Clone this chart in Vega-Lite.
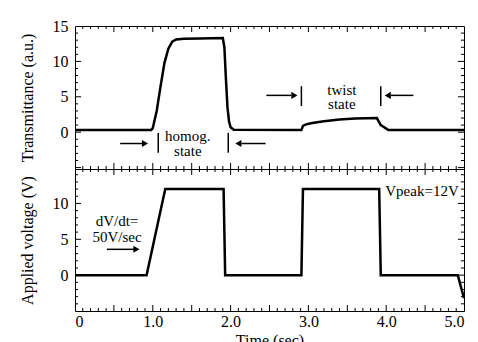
{
  "$schema": "https://vega.github.io/schema/vega-lite/v6.json",
  "padding": {"left": 18, "top": 17, "right": 15, "bottom": 5},
  "spacing": 0,
  "bounds": "flush",
  "datasets": {
    "trans": [
      {"t": 0, "v": 0.3}, {"t": 0.98, "v": 0.3}, {"t": 1.0, "v": 0.6}, {"t": 1.05, "v": 3.0},
      {"t": 1.1, "v": 6.5}, {"t": 1.15, "v": 9.8}, {"t": 1.2, "v": 11.8}, {"t": 1.25, "v": 12.8},
      {"t": 1.3, "v": 13.1}, {"t": 1.4, "v": 13.2}, {"t": 1.6, "v": 13.25}, {"t": 1.9, "v": 13.3},
      {"t": 1.92, "v": 12.0}, {"t": 1.94, "v": 7.5}, {"t": 1.96, "v": 3.5}, {"t": 1.98, "v": 1.5},
      {"t": 2.0, "v": 0.7}, {"t": 2.04, "v": 0.35}, {"t": 2.91, "v": 0.3}, {"t": 2.93, "v": 0.9},
      {"t": 2.97, "v": 1.1}, {"t": 3.05, "v": 1.3}, {"t": 3.2, "v": 1.55}, {"t": 3.4, "v": 1.8},
      {"t": 3.6, "v": 1.95}, {"t": 3.88, "v": 2.0}, {"t": 3.9, "v": 1.6}, {"t": 3.93, "v": 1.0},
      {"t": 3.96, "v": 0.8}, {"t": 4.0, "v": 0.5}, {"t": 4.03, "v": 0.3}, {"t": 5.0, "v": 0.3}
    ],
    "volt": [
      {"t": 0, "v": 0}, {"t": 0.92, "v": 0}, {"t": 1.16, "v": 12}, {"t": 1.91, "v": 12},
      {"t": 1.93, "v": 0}, {"t": 2.91, "v": 0}, {"t": 2.93, "v": 12}, {"t": 3.91, "v": 12},
      {"t": 3.93, "v": 0}, {"t": 4.92, "v": 0}, {"t": 5.0, "v": -3.2}
    ],
    "xmajor": [{"p": 0.5}, {"p": 1.0}, {"p": 1.5}, {"p": 2.0}, {"p": 2.5}, {"p": 3.0}, {"p": 3.5}, {"p": 4.0}, {"p": 4.5}],
    "xminor": [
      {"p": 0.1}, {"p": 0.2}, {"p": 0.3}, {"p": 0.4}, {"p": 0.6}, {"p": 0.7}, {"p": 0.8}, {"p": 0.9},
      {"p": 1.1}, {"p": 1.2}, {"p": 1.3}, {"p": 1.4}, {"p": 1.6}, {"p": 1.7}, {"p": 1.8}, {"p": 1.9},
      {"p": 2.1}, {"p": 2.2}, {"p": 2.3}, {"p": 2.4}, {"p": 2.6}, {"p": 2.7}, {"p": 2.8}, {"p": 2.9},
      {"p": 3.1}, {"p": 3.2}, {"p": 3.3}, {"p": 3.4}, {"p": 3.6}, {"p": 3.7}, {"p": 3.8}, {"p": 3.9},
      {"p": 4.1}, {"p": 4.2}, {"p": 4.3}, {"p": 4.4}, {"p": 4.6}, {"p": 4.7}, {"p": 4.8}, {"p": 4.9}
    ],
    "ymajorTop": [{"p": -5}, {"p": 0}, {"p": 5}, {"p": 10}],
    "yminorTop": [
      {"p": -4}, {"p": -3}, {"p": -2}, {"p": -1}, {"p": 1}, {"p": 2}, {"p": 3}, {"p": 4},
      {"p": 6}, {"p": 7}, {"p": 8}, {"p": 9}, {"p": 11}, {"p": 12}, {"p": 13}, {"p": 14}
    ],
    "ymajorBot": [{"p": 0}, {"p": 5}, {"p": 10}],
    "yminorBot": [
      {"p": -4}, {"p": -3}, {"p": -2}, {"p": -1}, {"p": 1}, {"p": 2}, {"p": 3}, {"p": 4},
      {"p": 6}, {"p": 7}, {"p": 8}, {"p": 9}, {"p": 11}, {"p": 12}, {"p": 13}, {"p": 14}
    ],
    "topText": [
      {"x": 1.45, "y": -0.6, "label": "homog."},
      {"x": 1.45, "y": -2.6, "label": "state"},
      {"x": 3.43, "y": 6.0, "label": "twist"},
      {"x": 3.43, "y": 4.0, "label": "state"}
    ],
    "topSeg": [
      {"x1": 0.58, "x2": 0.88, "y1": -1.6, "y2": -1.6},
      {"x1": 1.07, "x2": 1.07, "y1": -0.1, "y2": -2.9},
      {"x1": 1.97, "x2": 1.97, "y1": -0.1, "y2": -2.9},
      {"x1": 2.14, "x2": 2.45, "y1": -1.6, "y2": -1.6},
      {"x1": 2.46, "x2": 2.78, "y1": 5.2, "y2": 5.2},
      {"x1": 2.91, "x2": 2.91, "y1": 6.5, "y2": 3.7},
      {"x1": 3.93, "x2": 3.93, "y1": 6.5, "y2": 3.7},
      {"x1": 4.06, "x2": 4.35, "y1": 5.2, "y2": 5.2}
    ],
    "topHead": [
      {"x": 0.9, "y": -1.6, "dir": "r"},
      {"x": 2.1, "y": -1.6, "dir": "l"},
      {"x": 2.82, "y": 5.2, "dir": "r"},
      {"x": 4.02, "y": 5.2, "dir": "l"}
    ],
    "botText": [
      {"x": 0.54, "y": 7.5, "label": "dV/dt="},
      {"x": 0.54, "y": 5.3, "label": "50V/sec"},
      {"x": 4.46, "y": 11.7, "label": "Vpeak=12V"}
    ],
    "botSeg": [
      {"x1": 0.41, "x2": 0.76, "y1": 3.6, "y2": 3.6}
    ],
    "botHead": [
      {"x": 0.79, "y": 3.6, "dir": "r"}
    ]
  },
  "vconcat": [
    {
      "width": 389,
      "height": 143,
      "layer": [
        {
          "data": {"name": "trans"},
          "mark": {"type": "line", "color": "black", "strokeWidth": 2.5},
          "encoding": {
            "x": {"field": "t", "type": "quantitative", "scale": {"domain": [0, 5], "nice": false, "zero": false},
              "axis": {"orient": "bottom", "title": null, "labels": false}},
            "y": {"field": "v", "type": "quantitative", "scale": {"domain": [-5.2, 15], "nice": false, "zero": false},
              "axis": {"orient": "left", "title": "Transmittance (a.u.)", "values": [0, 5, 10, 15]}}
          }
        },
        {"data": {"name": "xmajor"}, "mark": {"type": "rule", "color": "black", "strokeWidth": 1},
          "encoding": {"x": {"field": "p", "type": "quantitative"}, "y": {"datum": -5.2, "type": "quantitative"}, "y2": {"datum": -4.35}}},
        {"data": {"name": "xminor"}, "mark": {"type": "rule", "color": "black", "strokeWidth": 1},
          "encoding": {"x": {"field": "p", "type": "quantitative"}, "y": {"datum": -5.2, "type": "quantitative"}, "y2": {"datum": -4.78}}},
        {"data": {"name": "xmajor"}, "mark": {"type": "rule", "color": "black", "strokeWidth": 1},
          "encoding": {"x": {"field": "p", "type": "quantitative"}, "y": {"datum": 15, "type": "quantitative"}, "y2": {"datum": 14.15}}},
        {"data": {"name": "xminor"}, "mark": {"type": "rule", "color": "black", "strokeWidth": 1},
          "encoding": {"x": {"field": "p", "type": "quantitative"}, "y": {"datum": 15, "type": "quantitative"}, "y2": {"datum": 14.58}}},
        {"data": {"name": "ymajorTop"}, "mark": {"type": "rule", "color": "black", "strokeWidth": 1},
          "encoding": {"y": {"field": "p", "type": "quantitative"}, "x": {"datum": 0, "type": "quantitative"}, "x2": {"datum": 0.078}}},
        {"data": {"name": "yminorTop"}, "mark": {"type": "rule", "color": "black", "strokeWidth": 1},
          "encoding": {"y": {"field": "p", "type": "quantitative"}, "x": {"datum": 0, "type": "quantitative"}, "x2": {"datum": 0.04}}},
        {"data": {"name": "ymajorTop"}, "mark": {"type": "rule", "color": "black", "strokeWidth": 1},
          "encoding": {"y": {"field": "p", "type": "quantitative"}, "x": {"datum": 5, "type": "quantitative"}, "x2": {"datum": 4.922}}},
        {"data": {"name": "yminorTop"}, "mark": {"type": "rule", "color": "black", "strokeWidth": 1},
          "encoding": {"y": {"field": "p", "type": "quantitative"}, "x": {"datum": 5, "type": "quantitative"}, "x2": {"datum": 4.96}}},
        {
          "data": {"name": "topText"},
          "mark": {"type": "text", "fontSize": 15, "color": "black", "font": "Liberation Serif"},
          "encoding": {
            "x": {"field": "x", "type": "quantitative"},
            "y": {"field": "y", "type": "quantitative"},
            "text": {"field": "label", "type": "nominal"}
          }
        },
        {
          "data": {"name": "topSeg"},
          "mark": {"type": "rule", "color": "black", "strokeWidth": 1.5},
          "encoding": {
            "x": {"field": "x1", "type": "quantitative"},
            "x2": {"field": "x2"},
            "y": {"field": "y1", "type": "quantitative"},
            "y2": {"field": "y2"}
          }
        },
        {
          "data": {"name": "topHead"},
          "mark": {"type": "point", "filled": true, "color": "black", "size": 50, "opacity": 1},
          "encoding": {
            "x": {"field": "x", "type": "quantitative"},
            "y": {"field": "y", "type": "quantitative"},
            "shape": {"field": "dir", "type": "nominal", "scale": {"domain": ["r", "l"], "range": ["triangle-right", "triangle-left"]}, "legend": null}
          }
        }
      ]
    },
    {
      "width": 389,
      "height": 142,
      "layer": [
        {
          "data": {"name": "volt"},
          "mark": {"type": "line", "color": "black", "strokeWidth": 2.5},
          "encoding": {
            "x": {"field": "t", "type": "quantitative", "scale": {"domain": [0, 5], "nice": false, "zero": false},
              "axis": {"orient": "bottom", "title": "Time (sec)", "values": [0, 1, 2, 3, 4, 5],
                "labelExpr": "datum.value === 0 ? '0' : format(datum.value, '.1f')"}},
            "y": {"field": "v", "type": "quantitative", "scale": {"domain": [-5, 14.8], "nice": false, "zero": false},
              "axis": {"orient": "left", "title": "Applied voltage (V)", "values": [0, 5, 10]}}
          }
        },
        {"data": {"name": "xmajor"}, "mark": {"type": "rule", "color": "black", "strokeWidth": 1},
          "encoding": {"x": {"field": "p", "type": "quantitative"}, "y": {"datum": -5, "type": "quantitative"}, "y2": {"datum": -4.16}}},
        {"data": {"name": "xminor"}, "mark": {"type": "rule", "color": "black", "strokeWidth": 1},
          "encoding": {"x": {"field": "p", "type": "quantitative"}, "y": {"datum": -5, "type": "quantitative"}, "y2": {"datum": -4.58}}},
        {"data": {"name": "xmajor"}, "mark": {"type": "rule", "color": "black", "strokeWidth": 1},
          "encoding": {"x": {"field": "p", "type": "quantitative"}, "y": {"datum": 14.8, "type": "quantitative"}, "y2": {"datum": 13.96}}},
        {"data": {"name": "xminor"}, "mark": {"type": "rule", "color": "black", "strokeWidth": 1},
          "encoding": {"x": {"field": "p", "type": "quantitative"}, "y": {"datum": 14.8, "type": "quantitative"}, "y2": {"datum": 14.38}}},
        {"data": {"name": "ymajorBot"}, "mark": {"type": "rule", "color": "black", "strokeWidth": 1},
          "encoding": {"y": {"field": "p", "type": "quantitative"}, "x": {"datum": 0, "type": "quantitative"}, "x2": {"datum": 0.078}}},
        {"data": {"name": "yminorBot"}, "mark": {"type": "rule", "color": "black", "strokeWidth": 1},
          "encoding": {"y": {"field": "p", "type": "quantitative"}, "x": {"datum": 0, "type": "quantitative"}, "x2": {"datum": 0.04}}},
        {"data": {"name": "ymajorBot"}, "mark": {"type": "rule", "color": "black", "strokeWidth": 1},
          "encoding": {"y": {"field": "p", "type": "quantitative"}, "x": {"datum": 5, "type": "quantitative"}, "x2": {"datum": 4.922}}},
        {"data": {"name": "yminorBot"}, "mark": {"type": "rule", "color": "black", "strokeWidth": 1},
          "encoding": {"y": {"field": "p", "type": "quantitative"}, "x": {"datum": 5, "type": "quantitative"}, "x2": {"datum": 4.96}}},
        {
          "data": {"name": "botText"},
          "mark": {"type": "text", "fontSize": 15, "color": "black", "font": "Liberation Serif"},
          "encoding": {
            "x": {"field": "x", "type": "quantitative"},
            "y": {"field": "y", "type": "quantitative"},
            "text": {"field": "label", "type": "nominal"}
          }
        },
        {
          "data": {"name": "botSeg"},
          "mark": {"type": "rule", "color": "black", "strokeWidth": 1.5},
          "encoding": {
            "x": {"field": "x1", "type": "quantitative"},
            "x2": {"field": "x2"},
            "y": {"field": "y1", "type": "quantitative"},
            "y2": {"field": "y2"}
          }
        },
        {
          "data": {"name": "botHead"},
          "mark": {"type": "point", "filled": true, "color": "black", "size": 50, "opacity": 1},
          "encoding": {
            "x": {"field": "x", "type": "quantitative"},
            "y": {"field": "y", "type": "quantitative"},
            "shape": {"field": "dir", "type": "nominal", "scale": {"domain": ["r", "l"], "range": ["triangle-right", "triangle-left"]}, "legend": null}
          }
        }
      ]
    }
  ],
  "config": {
    "font": "Liberation Serif",
    "view": {"stroke": "black", "strokeWidth": 1},
    "axis": {
      "domain": false,
      "grid": false,
      "ticks": false,
      "labelFont": "Liberation Serif",
      "labelFontSize": 16,
      "labelColor": "black",
      "labelPadding": 7,
      "titleFont": "Liberation Serif",
      "titleFontSize": 16,
      "titleFontWeight": "normal",
      "titleColor": "black",
      "titlePadding": 17
    },
    "axisBottom": {"labelPadding": 2, "titlePadding": 3}
  }
}
